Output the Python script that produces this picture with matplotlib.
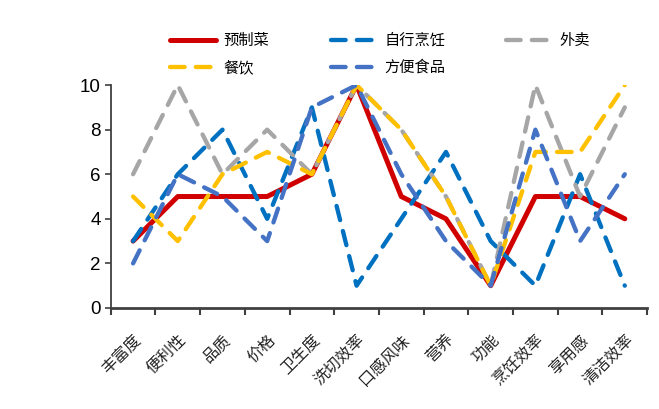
import matplotlib
matplotlib.use("Agg")
import matplotlib.pyplot as plt
from matplotlib import font_manager
import numpy as np

# 评价维度
categories = ["丰富度", "便利性", "品质", "价格", "卫生度", "洗切效率",
              "口感风味", "营养", "功能", "烹饪效率", "享用感", "清洁效率"]

# 各类用餐方式得分
yuzhicai = [3, 5, 5, 5, 6, 10, 5, 4, 1, 5, 5, 4]        # 预制菜
zixing = [3, 6, 8, 4, 9, 1, 4, 7, 3, 1, 6, 1]            # 自行烹饪
waimai = [6, 10, 6, 8, 6, 10, 8, 5, 1, 10, 5, 9]         # 外卖
canyin = [5, 3, 6, 7, 6, 10, 8, 5, 1, 7, 7, 10]          # 餐饮
fangbian = [2, 6, 5, 3, 9, 10, 6, 3, 1, 8, 3, 6]         # 方便食品

yticks = [0, 2, 4, 6, 8, 10]

cjk = ["Noto Sans CJK SC", "DejaVu Sans"]
names = {f.name for f in font_manager.fontManager.ttflist}
num_font = "Liberation Sans Narrow" if "Liberation Sans Narrow" in names else "Liberation Sans"
plt.rcParams["font.family"] = cjk

fig = plt.figure(figsize=(6.59, 4.09), dpi=100)
ax = fig.add_axes([0.168, 0.247, 0.814, 0.545])

x = np.arange(len(categories)) + 0.5
dash = (0, (3.4, 2.6))

ax.plot(x, yuzhicai, color="#D00000", lw=3.6, solid_capstyle="round",
        solid_joinstyle="round", label="预制菜", zorder=3)
ax.plot(x, zixing, color="#0070C0", lw=3.1, ls=dash, dash_capstyle="round",
        label="自行烹饪", zorder=4)
ax.plot(x, waimai, color="#A6A6A6", lw=3.1, ls=dash, dash_capstyle="round",
        label="外卖", zorder=5)
ax.plot(x, canyin, color="#FFC000", lw=3.1, ls=dash, dash_capstyle="round",
        label="餐饮", zorder=6)
ax.plot(x, fangbian, color="#4472C4", lw=3.1, ls=dash, dash_capstyle="round",
        label="方便食品", zorder=7)

ax.set_xlim(0, len(categories))
ax.set_ylim(0, 10)

# 分类边界刻度 + 居中标签
ax.set_xticks(np.arange(len(categories) + 1))
ax.set_xticklabels([])
ax.set_xticks(x, minor=True)
ax.set_xticklabels(categories, minor=True, rotation=45, ha="right",
                   va="top", rotation_mode="anchor", fontsize=11.5,
                   color="#222222")
ax.tick_params(axis="x", which="minor", length=0, pad=17)
ax.tick_params(axis="x", which="major", direction="out", length=5,
               width=1.5, color="#404040")

ax.set_yticks(yticks)
ax.set_yticklabels([str(v) for v in yticks], family=num_font, fontsize=13.5)
ax.tick_params(axis="y", direction="out", length=4, width=1.2,
               color="#404040", pad=3)

for s in ["top", "right"]:
    ax.spines[s].set_visible(False)
ax.spines["left"].set_color("#404040")
ax.spines["left"].set_linewidth(1.3)
ax.spines["bottom"].set_color("#404040")
ax.spines["bottom"].set_linewidth(2)

# 图例：两行三列
h, l = ax.get_legend_handles_labels()
order = [0, 3, 1, 4, 2]
fig.legend([h[i] for i in order], [l[i] for i in order], ncol=3,
           loc="center", bbox_to_anchor=(0.577, 0.868), frameon=False,
           fontsize=11, handlelength=3.0, columnspacing=4.0,
           labelspacing=0.65, handletextpad=0.5)

fig.savefig("out.png", dpi=100)
